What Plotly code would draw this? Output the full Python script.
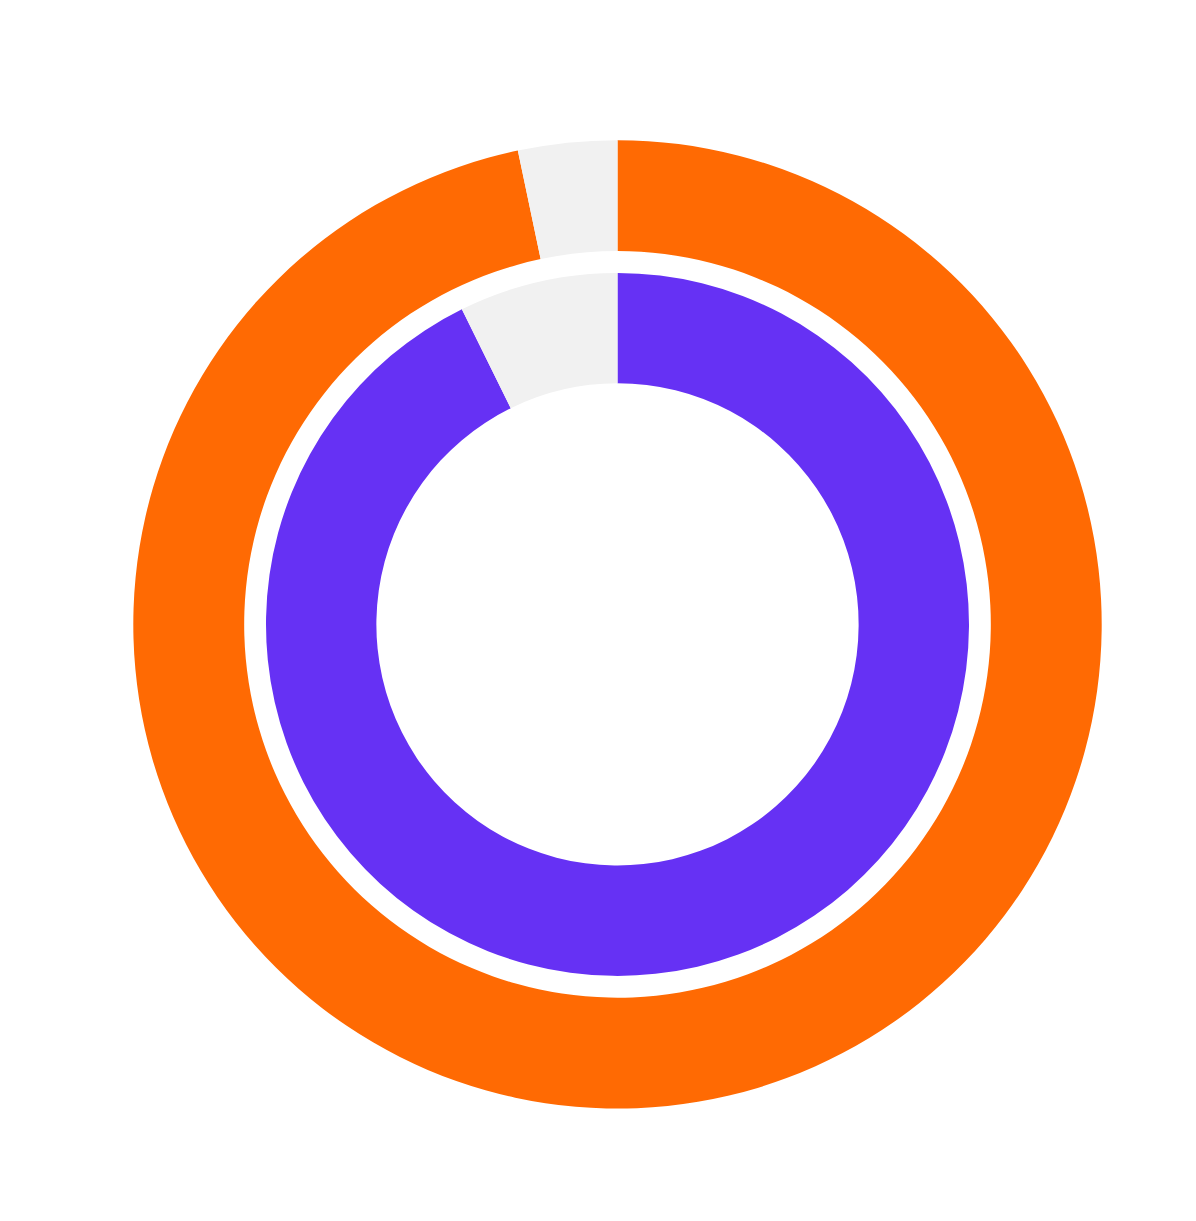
import plotly.graph_objects as go

# two rings, values (percent)
outer_labels = ["Orange", "Rest"]
outer_values = [96.7, 3.3]
inner_labels = ["Purple", "Rest"]
inner_values = [92.7, 7.3]

orange = "#FF6A03"
purple = "#6631F4"
grey = "#F1F1F1"

W, H = 1196, 1221
# center in px from top-left; page body adds an 8px margin
cx, cy = 617.5 - 8, 624.4 - 8


def dom(r):
    return dict(x=[(cx - r) / W, (cx + r) / W],
                y=[(H - cy - r) / H, (H - cy + r) / H])


fig = go.Figure()
fig.add_trace(go.Pie(labels=outer_labels, values=outer_values, hole=0.771,
                     sort=False, direction="clockwise", rotation=0,
                     marker=dict(colors=[orange, grey], line=dict(width=0)),
                     textinfo="none", domain=dom(484.2)))
fig.add_trace(go.Pie(labels=inner_labels, values=inner_values, hole=0.686,
                     sort=False, direction="clockwise", rotation=0,
                     marker=dict(colors=[purple, grey], line=dict(width=0)),
                     textinfo="none", domain=dom(351.5)))

fig.update_layout(width=W, height=H, margin=dict(l=0, r=0, t=0, b=0),
                  showlegend=False, paper_bgcolor="white")
fig.write_html("out.html")
